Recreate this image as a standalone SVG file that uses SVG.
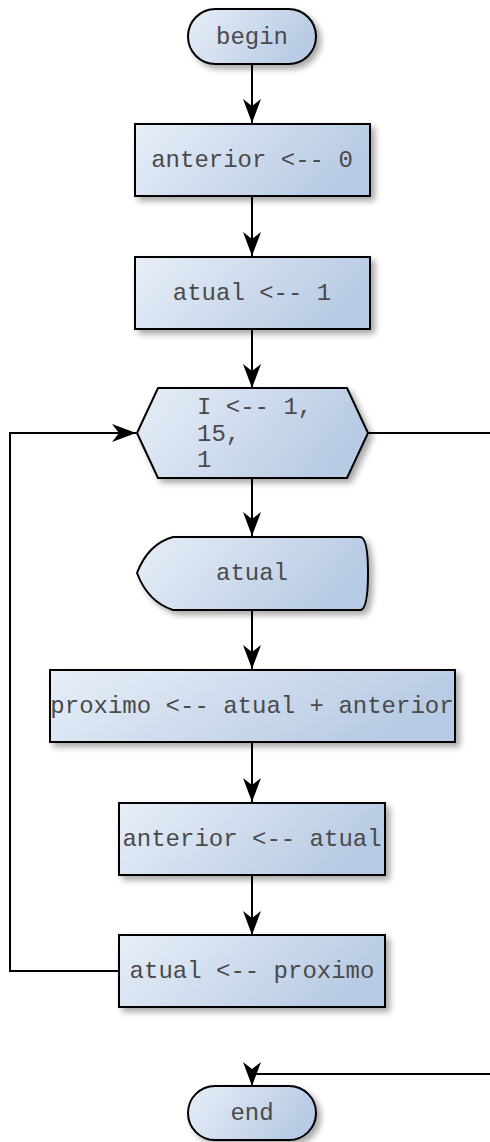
<svg xmlns="http://www.w3.org/2000/svg" width="490" height="1142" viewBox="0 0 490 1142">
<style>
.n{fill:url(#g);stroke:#000;stroke-width:2;filter:url(#sh)}
.t{font-family:"Liberation Mono","Courier New",monospace;font-size:24px;fill:#4a4a4a;text-anchor:middle;dominant-baseline:central}
.tl{text-anchor:start}
.c{fill:none;stroke:#000;stroke-width:2}
</style>
<defs>
<linearGradient id="g" x1="0" y1="0" x2="1" y2="0.3">
<stop offset="0" stop-color="#e8eef8"/>
<stop offset="1" stop-color="#b8cbe4"/>
</linearGradient>
<filter id="sh" x="-20%" y="-20%" width="150%" height="160%">
<feGaussianBlur in="SourceAlpha" stdDeviation="3"/>
<feOffset dx="4" dy="4" result="b"/>
<feComponentTransfer><feFuncA type="linear" slope="0.35"/></feComponentTransfer>
<feMerge><feMergeNode/><feMergeNode in="SourceGraphic"/></feMerge>
</filter>
<marker id="a" markerUnits="userSpaceOnUse" markerWidth="30" markerHeight="24" viewBox="-26 -12 30 24" refX="0" refY="0" orient="auto">
<path d="M0,0 L-24,-9 L-17,0 L-24,9 Z" fill="#000"/>
</marker>
</defs>
<g id="connectors">
<line class="c" x1="252" y1="64" x2="252" y2="123" marker-end="url(#a)"/>
<line class="c" x1="252" y1="196" x2="252" y2="256" marker-end="url(#a)"/>
<line class="c" x1="252" y1="329" x2="252" y2="388" marker-end="url(#a)"/>
<line class="c" x1="252" y1="478" x2="252" y2="536" marker-end="url(#a)"/>
<line class="c" x1="252" y1="610" x2="252" y2="669" marker-end="url(#a)"/>
<line class="c" x1="252" y1="742" x2="252" y2="802" marker-end="url(#a)"/>
<line class="c" x1="252" y1="875" x2="252" y2="935" marker-end="url(#a)"/>
<polyline class="c" points="119,971 10,971 10,433 136,433" marker-end="url(#a)"/>
<polyline class="c" points="368,433 492,433"/>
<polyline class="c" points="492,1074 252,1074 252,1086" marker-end="url(#a)"/>
</g>
<g id="begin">
<rect class="n" x="188" y="9" width="128" height="55" rx="27.5"/>
<text class="t" x="252" y="37">begin</text>
</g>
<g id="anterior0">
<rect class="n" x="135" y="124" width="235" height="72"/>
<text class="t" x="252" y="160">anterior &lt;-- 0</text>
</g>
<g id="atual1">
<rect class="n" x="135" y="257" width="235" height="72"/>
<text class="t" x="252" y="293">atual &lt;-- 1</text>
</g>
<g id="loop">
<polygon class="n" points="137,433 158,388 347,388 368,433 347,478 158,478"/>
<text class="t tl" x="197" y="407">I &lt;-- 1,</text>
<text class="t tl" x="197" y="434">15,</text>
<text class="t tl" x="197" y="460">1</text>
</g>
<g id="display">
<path class="n" d="M173,537 L360,537 Q368,537 368,573 Q368,610 360,610 L173,610 Q148,602 137,573 Q148,544 173,537 Z"/>
<text class="t" x="252" y="573">atual</text>
</g>
<g id="proximo">
<rect class="n" x="50" y="670" width="405" height="72"/>
<text class="t" x="252" y="706">proximo &lt;-- atual + anterior</text>
</g>
<g id="anteriorAtual">
<rect class="n" x="119" y="803" width="266" height="72"/>
<text class="t" x="252" y="839">anterior &lt;-- atual</text>
</g>
<g id="atualProximo">
<rect class="n" x="119" y="935" width="266" height="72"/>
<text class="t" x="252" y="971">atual &lt;-- proximo</text>
</g>
<g id="end">
<rect class="n" x="188" y="1086" width="128" height="54" rx="27"/>
<text class="t" x="252" y="1113">end</text>
</g>
</svg>
